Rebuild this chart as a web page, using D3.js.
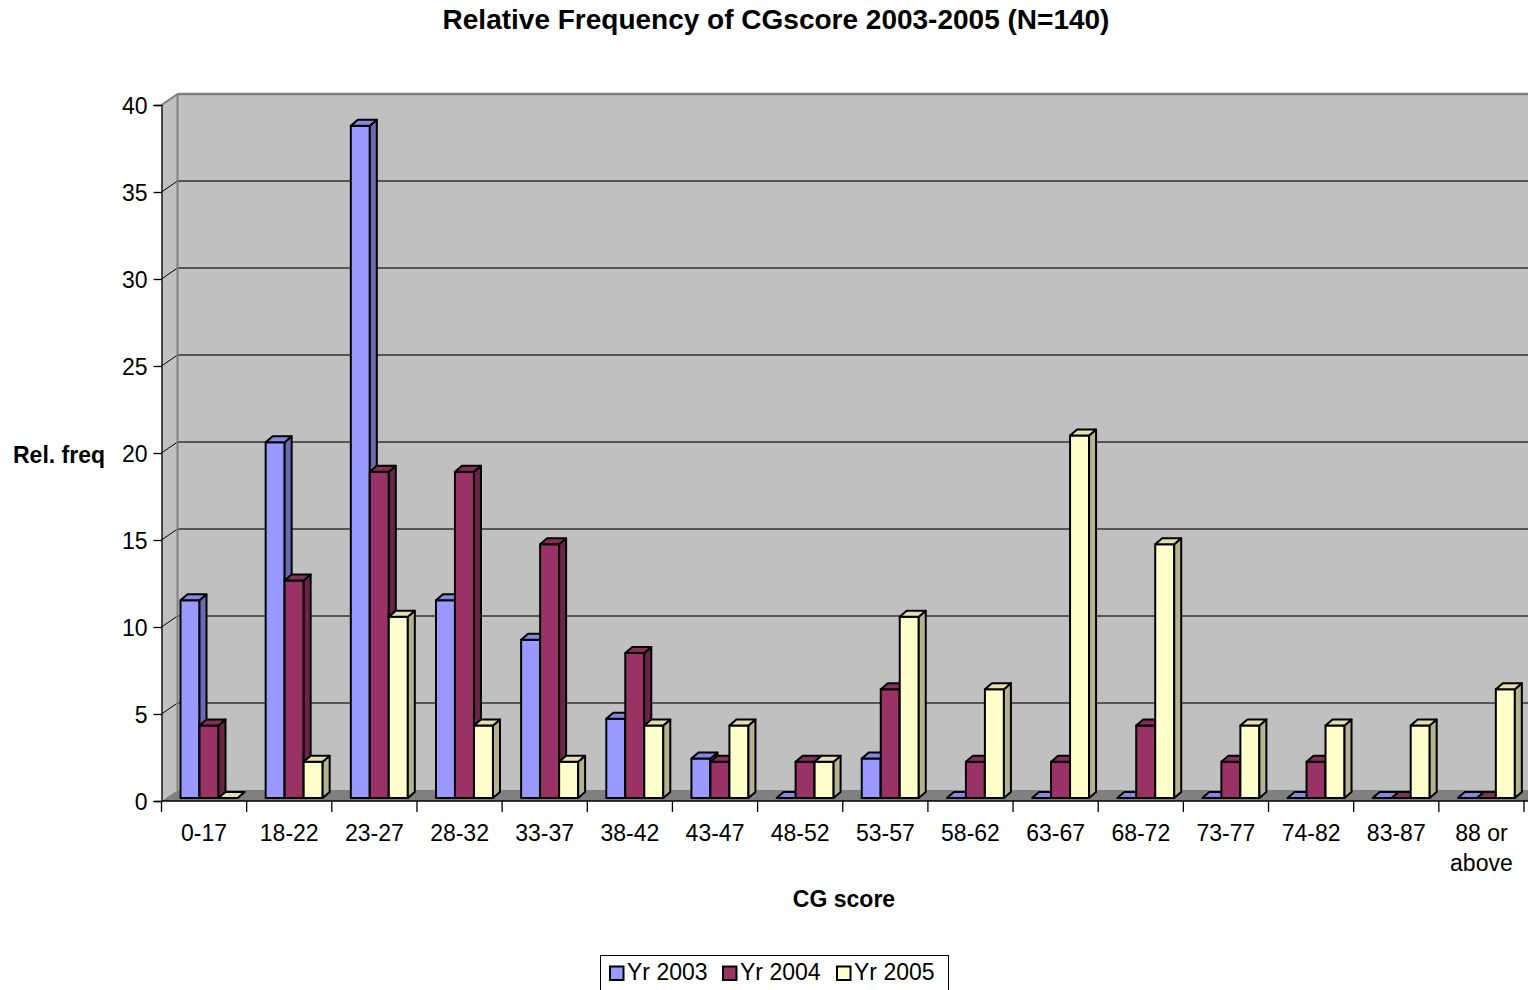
<!DOCTYPE html>
<html>
<head>
<meta charset="utf-8">
<script src="https://cdn.jsdelivr.net/npm/d3@7"></script>
<style>
  body { margin: 0; background: #fff; }
  text { font-family: Arial, "Liberation Sans", sans-serif; }
</style>
</head>
<body>
<svg id="chart"></svg>
<script>
// categories and values (relative frequency, %)
var categories = ["0-17","18-22","23-27","28-32","33-37","38-42","43-47","48-52","53-57","58-62","63-67","68-72","73-77","74-82","83-87","88 or above"];
var yr2003 = [11.36, 20.45, 38.64, 11.36, 9.09, 4.55, 2.27, 0, 2.27, 0, 0, 0, 0, 0, 0, 0];
var yr2004 = [4.17, 12.5, 18.75, 18.75, 14.58, 8.33, 2.08, 2.08, 6.25, 2.08, 2.08, 4.17, 2.08, 2.08, 0, 0];
var yr2005 = [0, 2.08, 10.42, 4.17, 2.08, 4.17, 4.17, 2.08, 10.42, 6.25, 20.83, 14.58, 4.17, 4.17, 4.17, 6.25];
var seriesNames = ["Yr 2003", "Yr 2004", "Yr 2005"];
var seriesColors = ["#9999FF", "#993366", "#FFFFCC"];
var yTicks = [0, 5, 10, 15, 20, 25, 30, 35, 40];

var W = 1528, H = 990;
var svg = d3.select("#chart").attr("width", W).attr("height", H);

// plot geometry
var left = 161.5, right = 1524, y0 = 801, yTop = 105;
var depthX = 16, depthY = -11;     // wall depth
var barDX = 4, barDY = -3;         // bar plane inside floor
var topDX = 7, topDY = -6;         // bar own depth

var x = d3.scaleBand().domain(categories).range([left, right]).paddingInner(0).paddingOuter(0);
var xs = d3.scaleBand().domain(seriesNames).range([15, 72]);
var y = d3.scaleLinear().domain([0, 40]).range([y0, yTop]);

var series = seriesNames.map(function(n, i) {
  return { name: n, color: seriesColors[i], values: [yr2003, yr2004, yr2005][i] };
});

// walls
var g = svg.append("g");
// back wall
g.append("rect")
  .attr("x", left + depthX).attr("y", yTop + depthY)
  .attr("width", W - left - depthX + 5).attr("height", y0 - yTop)
  .attr("fill", "#C0C0C0");
// left side wall
g.append("path")
  .attr("d", `M${left},${yTop} L${left+depthX},${yTop+depthY} L${left+depthX},${y0+depthY} L${left},${y0} Z`)
  .attr("fill", "#C0C0C0");
// floor
g.append("path")
  .attr("d", `M${left},${y0} L${left+depthX},${y0+depthY} L${W+5},${y0+depthY} L${W+5},${y0} Z`)
  .attr("fill", "#808080");

// gridlines (back wall + side wall diagonal)
yTicks.filter(d => d > 0).forEach(function(t) {
  var yy = y(t);
  g.append("line")
    .attr("x1", left + depthX).attr("x2", W + 5)
    .attr("y1", yy + depthY).attr("y2", yy + depthY)
    .attr("stroke", t === 40 ? "#808080" : "#333").attr("stroke-width", t === 40 ? 2.5 : 1.3);
  g.append("line")
    .attr("x1", left).attr("y1", yy)
    .attr("x2", left + depthX).attr("y2", yy + depthY)
    .attr("stroke", "#000").attr("stroke-width", 1);
});
// edge between side wall and back wall
g.append("line")
  .attr("x1", left + depthX).attr("x2", left + depthX)
  .attr("y1", yTop + depthY).attr("y2", y0 + depthY)
  .attr("stroke", "#808080").attr("stroke-width", 2);
g.append("line")
  .attr("x1", left).attr("y1", yTop)
  .attr("x2", left + depthX).attr("y2", yTop + depthY)
  .attr("stroke", "#808080").attr("stroke-width", 2);

// bars
var bars = svg.append("g").attr("stroke", "#000").attr("stroke-width", 2).attr("stroke-linejoin", "round");
categories.forEach(function(c, ci) {
  series.forEach(function(s) {
    var v = s.values[ci];
    var bx = x(c) + xs(s.name) + barDX;
    var bw = xs.bandwidth();
    var by = y(v) + barDY;
    var bb = y(0) + barDY;
    var col = d3.color(s.color);
    // front
    bars.append("rect")
      .attr("x", bx).attr("y", by).attr("width", bw).attr("height", bb - by)
      .attr("fill", s.color);
    // side
    bars.append("path")
      .attr("d", `M${bx+bw},${by} L${bx+bw+topDX},${by+topDY} L${bx+bw+topDX},${bb+topDY} L${bx+bw},${bb} Z`)
      .attr("fill", col.darker(1.0));
    // top
    bars.append("path")
      .attr("d", `M${bx},${by} L${bx+topDX},${by+topDY} L${bx+bw+topDX},${by+topDY} L${bx+bw},${by} Z`)
      .attr("fill", col.darker(0.35));
  });
});

// y axis
var yAxis = svg.append("g")
  .attr("transform", `translate(${left},0)`)
  .call(d3.axisLeft(y).tickValues(yTicks).tickSize(8).tickPadding(6));
yAxis.select(".domain").attr("stroke", "#000").attr("stroke-width", 1.3);
yAxis.selectAll(".tick line").attr("stroke", "#000").attr("stroke-width", 1.3);
yAxis.selectAll(".tick text").attr("font-size", 23).attr("fill", "#000")
  .attr("font-family", "Arial, 'Liberation Sans', sans-serif").attr("dy", "0.36em");

// x axis
var xAxisG = svg.append("g").attr("transform", `translate(0,${y0})`);
xAxisG.append("line").attr("x1", left).attr("x2", W + 5).attr("y1", 0).attr("y2", 0)
  .attr("stroke", "#000").attr("stroke-width", 1.3);
var bounds = categories.map(c => x(c)).concat([right]);
xAxisG.selectAll("line.tk").data(bounds).enter().append("line")
  .attr("class", "tk")
  .attr("x1", d => d).attr("x2", d => d).attr("y1", 0).attr("y2", 11)
  .attr("stroke", "#000").attr("stroke-width", 1.3);
var xl = xAxisG.selectAll("text.cat").data(categories).enter().append("text")
  .attr("class", "cat")
  .attr("x", d => x(d) + x.bandwidth() / 2)
  .attr("y", 40)
  .attr("text-anchor", "middle")
  .attr("font-size", 23);
xl.each(function(d) {
  var parts = d === "88 or above" ? ["88 or", "above"] : [d];
  var t = d3.select(this);
  parts.forEach(function(p, i) {
    t.append("tspan").attr("x", x(d) + x.bandwidth() / 2).attr("dy", i === 0 ? 0 : 30).text(p);
  });
});

// titles
svg.append("text").attr("x", 776).attr("y", 29).attr("text-anchor", "middle")
  .attr("font-size", 28).attr("font-weight", "bold").text("Relative Frequency of CGscore 2003-2005 (N=140)");
svg.append("text").attr("x", 13).attr("y", 463)
  .attr("font-size", 23).attr("font-weight", "bold").text("Rel. freq");
svg.append("text").attr("x", 844).attr("y", 907).attr("text-anchor", "middle")
  .attr("font-size", 23).attr("font-weight", "bold").text("CG score");

// legend
var legend = svg.append("g");
legend.append("rect").attr("x", 600.5).attr("y", 955.5).attr("width", 348).attr("height", 40)
  .attr("fill", "#fff").attr("stroke", "#000").attr("stroke-width", 1);
var legX = [610, 723, 837];
series.forEach(function(s, i) {
  legend.append("rect").attr("x", legX[i]).attr("y", 966.5).attr("width", 13.5).attr("height", 13.5)
    .attr("fill", s.color).attr("stroke", "#000").attr("stroke-width", 2);
  legend.append("text").attr("x", legX[i] + 17).attr("y", 980).attr("font-size", 23).text(s.name);
});
</script>
</body>
</html>
